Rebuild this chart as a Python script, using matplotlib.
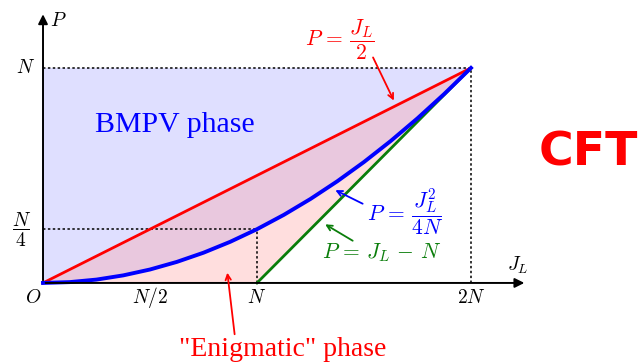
import numpy as np
import matplotlib
matplotlib.use("Agg")
import matplotlib.pyplot as plt

plt.rcParams['mathtext.fontset'] = 'cm'
plt.rcParams['hatch.linewidth'] = 0.5

# Phase diagram data (units of N)
j_vals = [0, 0.125, 0.25, 0.375, 0.5, 0.625, 0.75, 0.875, 1.0,
          1.125, 1.25, 1.375, 1.5, 1.625, 1.75, 1.875, 2.0]
p_bmpv = [0, 0.0039, 0.0156, 0.0352, 0.0625, 0.0977, 0.1406, 0.1914, 0.25,
          0.3164, 0.3906, 0.4727, 0.5625, 0.6602, 0.7656, 0.8789, 1.0]
p_half = [0, 0.0625, 0.125, 0.1875, 0.25, 0.3125, 0.375, 0.4375, 0.5,
          0.5625, 0.625, 0.6875, 0.75, 0.8125, 0.875, 0.9375, 1.0]
p_shift = [0, 0, 0, 0, 0, 0, 0, 0, 0,
           0.125, 0.25, 0.375, 0.5, 0.625, 0.75, 0.875, 1.0]
p_top = [1.0] * len(j_vals)

tick_pos = [0.5, 1.0, 2.0]
tick_labels = [r'$N/2$', r'$N$', r'$2N$']

red = '#ff0000'
blue = '#0000ff'
green = '#0a7d0a'

# dpi 96 so the hatch lines land every 2 pixels (no moire)
DPI = 96
s = 100 / DPI

fig = plt.figure(figsize=(640 / DPI, 364 / DPI), dpi=DPI)
ax = fig.add_axes([0, 0, 1, 1])
ax.set_xlim(-0.201, 2.790)
ax.set_ylim(-0.377, 1.316)
ax.axis('off')

# hatched regions
ax.fill_between(j_vals, p_bmpv, p_top, facecolor='none', edgecolor='#a0a0ff',
                hatch='-' * 8, linewidth=0)
ax.fill_between(j_vals, p_shift, p_half, facecolor='none', edgecolor='#ff9c9c',
                hatch='|' * 8, linewidth=0)

# dotted guides
dot = dict(color='black', lw=1.1 * s, ls=(0, (1.6, 1.6)))
ax.plot([0, 2], [1, 1], **dot)
ax.plot([2, 2], [0, 1], **dot)
ax.plot([0, 1], [0.25, 0.25], **dot)
ax.plot([1, 1], [0, 0.25], **dot)

# axes with arrows
ax.annotate('', xy=(2.262, 0), xytext=(0, 0),
            arrowprops=dict(arrowstyle='-|>', color='black', lw=1.4 * s, mutation_scale=14 * s))
ax.annotate('', xy=(0, 1.262), xytext=(0, 0),
            arrowprops=dict(arrowstyle='-|>', color='black', lw=1.4 * s, mutation_scale=14 * s))

# curves
ax.plot(j_vals, p_half, color=red, lw=2.0 * s)
ax.plot(j_vals[8:], p_shift[8:], color=green, lw=2.0 * s)
ax.plot(j_vals, p_bmpv, color=blue, lw=2.8 * s)

# tick labels
fs = 14 * s
ffs = 15.5 * s
for x, lab in zip(tick_pos, tick_labels):
    ax.text(x, -0.07, lab, ha='center', va='center', fontsize=fs)
ax.text(-0.047, -0.07, r'$O$', ha='center', va='center', fontsize=fs)
ax.text(-0.08, 1.0, r'$N$', ha='center', va='center', fontsize=fs)
ax.text(-0.10, 0.245, r'$\dfrac{N}{4}$', ha='center', va='center', fontsize=fs)
ax.text(0.07, 1.219, r'$P$', ha='center', va='center', fontsize=fs)
ax.text(2.22, 0.084, r'$J_L$', ha='center', va='center', fontsize=fs)

# annotations
ax.text(0.617, 0.735, 'BMPV phase', color=blue, ha='center', va='center',
        fontsize=21.5 * s, family='Liberation Serif')
ax.text(1.12, -0.31, '"Enigmatic" phase', color=red, ha='center', va='center',
        fontsize=20 * s, family='Liberation Serif')
ax.text(1.388, 1.13, r'$P\,=\,\dfrac{J_L}{2}$', color=red, ha='center', va='center', fontsize=ffs)
ax.annotate('', xy=(1.645, 0.837), xytext=(1.537, 1.06),
            arrowprops=dict(arrowstyle='->', color=red, lw=1.3 * s))
ax.text(1.69, 0.33, r'$P\,=\,\dfrac{J_L^2}{4N}$', color=blue, ha='center', va='center', fontsize=ffs)
ax.annotate('', xy=(1.355, 0.437), xytext=(1.505, 0.363),
            arrowprops=dict(arrowstyle='->', color=blue, lw=1.3 * s))
ax.text(1.584, 0.14, r'$P\,=\,J_L\,-\,N$', color=green, ha='center', va='center', fontsize=ffs)
ax.annotate('', xy=(1.308, 0.279), xytext=(1.458, 0.19),
            arrowprops=dict(arrowstyle='->', color=green, lw=1.3 * s))
ax.annotate('', xy=(0.86, 0.06), xytext=(0.897, -0.251),
            arrowprops=dict(arrowstyle='->', color=red, lw=1.3 * s))

ax.text(2.547, 0.605, 'CFT', color=red, ha='center', va='center',
        fontsize=34 * s, fontweight='bold', family='DejaVu Sans')

fig.savefig('out.png', dpi=DPI)
